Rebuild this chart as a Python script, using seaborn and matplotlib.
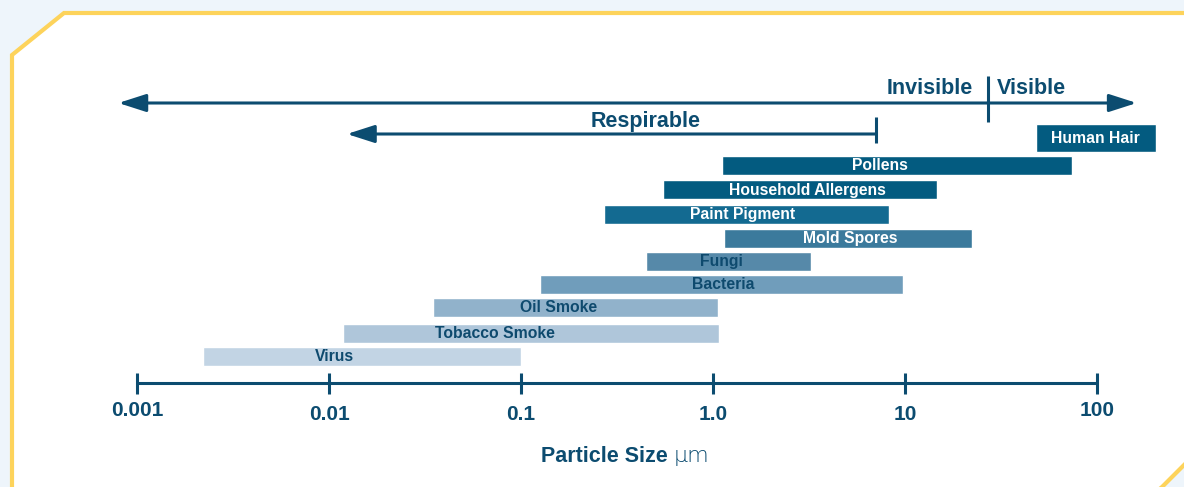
import numpy as np
import matplotlib
matplotlib.use("Agg")
import matplotlib.pyplot as plt
from matplotlib.patches import Polygon
import seaborn as sns

# ---------------- data ----------------
categories = ["Human Hair", "Pollens", "Household Allergens", "Paint Pigment",
              "Mold Spores", "Fungi", "Bacteria", "Oil Smoke", "Tobacco Smoke", "Virus"]
size_min = [48, 1.11, 0.55, 0.27, 1.14, 0.45, 0.126, 0.035, 0.0118, 0.0022]
size_max = [203, 74, 14.7, 8.25, 22.3, 3.24, 9.77, 1.06, 1.07, 0.10]
label_at = [98, 7.4, 3.09, 1.43, 5.18, 1.10, 1.13, 0.156, 0.073, 0.0107]
tick_values = [0.001, 0.01, 0.1, 1.0, 10, 100]
tick_labels = ["0.001", "0.01", "0.1", "1.0", "10", "100"]
range_min, range_max = 0.0008, 161
respirable_min, respirable_max = 0.0124, 7.1
visible_min = 27

# ---------------- style ----------------
sns.set_theme(style="white")
plt.rcParams["font.family"] = ["Liberation Sans", "DejaVu Sans"]

W, H = 1184, 487
fig = plt.figure(figsize=(W / 100, H / 100), dpi=100)

bar_colors = ["#035B80", "#035B80", "#035B80", "#136A91", "#3B7A9C",
              "#5689A9", "#709DBB", "#91B2CB", "#AFC6DA", "#C2D4E4"]
text_colors = ["white"] * 5 + ["#0E4A6E"] * 5
navy = "#0C4C70"
yellow = "#FDD35B"

# background frame axes (pixel coords)
bg = fig.add_axes([0, 0, 1, 1])
bg.set_xlim(0, W)
bg.set_ylim(H, 0)
bg.axis("off")
bg.add_patch(plt.Rectangle((0, 0), W, H, color="#EEF5FB", zorder=0))
frame = Polygon([(12, H + 10), (12, 55), (64, 13), (W + 10, 13),
                 (W + 10, 455), (W - 22, H - 0), (1150, H + 10)],
                closed=True, facecolor="white", edgecolor=yellow, lw=3.0, zorder=1)
bg.add_patch(frame)

# chart axes: x in log data units, y in pixel rows
ax = fig.add_axes([0, 0, 1, 1], facecolor="none")
ax.set_xscale("log")
x0, px_per_dec = 137, 192
ax.set_xlim(10 ** (-3 - x0 / px_per_dec), 10 ** (-3 + (W - x0) / px_per_dec))
ax.set_ylim(H, 0)
ax.axis("off")

bar_y = [138, 165.5, 189.5, 214, 238, 261, 284, 307, 333, 356]
bar_h = [28, 19, 19, 19, 19, 19, 19, 19, 19, 19]
lefts = np.array(size_min)
widths = np.array(size_max) - lefts
ax.barh(bar_y, widths, left=lefts, height=bar_h, color=bar_colors, zorder=3)
for cat, lx, y, tc in zip(categories, label_at, bar_y, text_colors):
    ax.text(lx, y + 0.5, cat, ha="center", va="center", color=tc,
            fontsize=11.3, fontweight="bold", zorder=4)

# scale axis
axis_y = 383
ax.plot([tick_values[0], tick_values[-1]], [axis_y, axis_y], color=navy, lw=2.2,
        solid_capstyle="butt", zorder=3)
label_y = [410, 415, 415, 415, 415, 411]
for tv, tl, ly in zip(tick_values, tick_labels, label_y):
    ax.plot([tv, tv], [373, 394], color=navy, lw=2.2, solid_capstyle="butt", zorder=3)
    ax.text(tv, ly, tl, ha="center", va="center", color=navy, fontsize=15,
            fontweight="bold")
ax.text(0.627, 456, "Particle Size ", ha="right", va="center", color=navy,
        fontsize=15.5, fontweight="bold")
ax.text(0.627, 456, "\u03bcm", ha="left", va="center", color=navy, fontsize=16,
        fontfamily=["DejaVu Sans"], fontweight="light")

# top arrow (full range)
arrow_kw = dict(arrowstyle="-|>,head_length=1.4,head_width=0.45", color=navy,
                lw=2.2, shrinkA=0, shrinkB=0)
ax.annotate("", xy=(range_min, 103), xytext=(visible_min, 103), arrowprops=arrow_kw)
ax.annotate("", xy=(range_max, 103), xytext=(visible_min, 103), arrowprops=arrow_kw)
ax.plot([visible_min, visible_min], [76, 122], color=navy, lw=2.2,
        solid_capstyle="butt", zorder=3)
ax.text(visible_min / 1.2, 89, "Invisible", ha="right", va="center", color=navy,
        fontsize=15.5, fontweight="bold")
ax.text(visible_min * 1.12, 89, "Visible", ha="left", va="center", color=navy,
        fontsize=15.5, fontweight="bold")

# respirable arrow
ax.annotate("", xy=(respirable_min, 134), xytext=(respirable_max, 134), arrowprops=arrow_kw)
ax.plot([respirable_max, respirable_max], [117, 143], color=navy, lw=2.2,
        solid_capstyle="butt", zorder=3)
ax.text(0.448, 121, "Respirable", ha="center", va="center",
        color=navy, fontsize=15.5, fontweight="bold")

fig.savefig("out.png", dpi=100)
